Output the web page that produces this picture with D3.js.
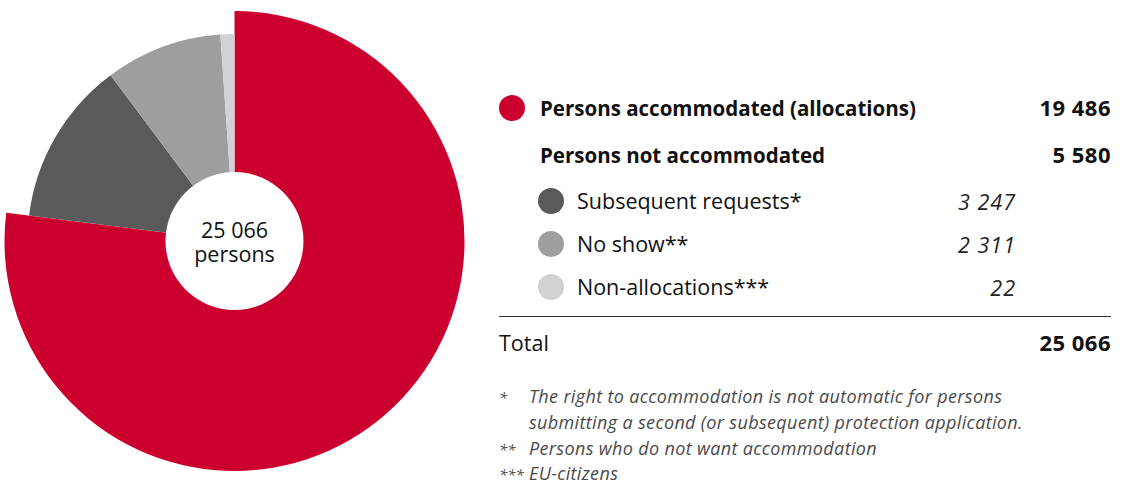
<!DOCTYPE html>
<html>
<head>
<meta charset="utf-8">
<script src="https://cdn.jsdelivr.net/npm/d3@7"></script>
<style>
  body { margin: 0; background: #fff; }
  svg { font-family: "Open Sans", "Noto Sans", sans-serif; }
</style>
</head>
<body>
<script>
// data
var categories = ["Persons accommodated (allocations)", "Subsequent requests*", "No show**", "Non-allocations***"];
var values = [19486, 3247, 2311, 22];
var colors = ["#cc002e", "#5a5a5c", "#9d9ea0", "#d1d2d4"];
var notAccommodatedLabel = "Persons not accommodated";
var totalLabel = "Total";
var centerLabel = ["25 066", "persons"];
var footMarks = ["*", "", "**", "***"];
var footTexts = [
  "The right to accommodation is not automatic for persons",
  "submitting a second (or subsequent) protection application.",
  "Persons who do not want accommodation",
  "EU-citizens"
];

var width = 1123, height = 485;
var cx = 234.5, cy = 241;

var total = d3.sum(values);
var notAcc = d3.sum(values.slice(1));
var fmt = d3.formatLocale({decimal: ".", thousands: " ", grouping: [3], currency: ["", ""]}).format(",d");

var svg = d3.select("body").append("svg")
  .attr("width", width)
  .attr("height", height);

var data = categories.map(function(c, i){ return {name: c, value: values[i], color: colors[i], idx: i}; });

// tiny slices get a minimum visible angle, like in the printed chart
var pie = d3.pie()
  .sort(null)
  .value(function(d){ return Math.max(d.value, total * 0.011); });

var arcs = pie(data);

var arcMain = d3.arc().innerRadius(60).outerRadius(230);
var arcRest = d3.arc().innerRadius(60).outerRadius(207);

var g = svg.append("g").attr("transform", "translate(" + cx + "," + cy + ")");

g.selectAll("path")
  .data(arcs)
  .enter()
  .append("path")
  .attr("d", function(d){ return d.data.idx === 0 ? arcMain(d) : arcRest(d); })
  .attr("fill", function(d){ return d.data.color; });

g.append("circle").attr("r", 69).attr("fill", "#fff");

g.append("text")
  .attr("text-anchor", "middle")
  .attr("y", -3)
  .attr("font-size", "21.5px")
  .attr("fill", "#111")
  .text(centerLabel[0]);
g.append("text")
  .attr("text-anchor", "middle")
  .attr("y", 21)
  .attr("font-size", "21.5px")
  .attr("fill", "#111")
  .text(centerLabel[1]);

// legend table
var xLeft = 499, xText = 540, xSub = 577, xRight = 1111, xSubVal = 1016;
var leg = svg.append("g").attr("font-size", "21.5px").attr("fill", "#111");

// row 1: accommodated
leg.append("circle").attr("cx", 512).attr("cy", 108).attr("r", 13).attr("fill", colors[0]);
leg.append("text").attr("x", xText).attr("y", 116).attr("font-weight", "bold").attr("font-size", "20.5px").text(categories[0]);
leg.append("text").attr("x", xRight).attr("y", 116).attr("text-anchor", "end").attr("font-weight", "bold")
  .attr("font-size", "22px").attr("letter-spacing", "0.5px").text(fmt(values[0]));

// row 2: not accommodated
leg.append("text").attr("x", xText).attr("y", 163).attr("font-weight", "bold").attr("font-size", "20.5px").text(notAccommodatedLabel);
leg.append("text").attr("x", xRight).attr("y", 163).attr("text-anchor", "end").attr("font-weight", "bold")
  .attr("font-size", "22px").attr("letter-spacing", "0.5px").text(fmt(notAcc));

// sub rows
var subY = [201, 244, 287];
var sub = leg.selectAll("g.sub")
  .data(data.slice(1))
  .enter()
  .append("g")
  .attr("class", "sub")
  .attr("transform", function(d, i){ return "translate(0," + subY[i] + ")"; });
sub.append("circle").attr("cx", 551).attr("r", 13).attr("fill", function(d){ return d.color; });
sub.append("text").attr("x", xSub).attr("y", 8).text(function(d){ return d.name; });
sub.append("text").attr("x", xSubVal).attr("y", 9).attr("text-anchor", "end")
  .attr("font-style", "italic").attr("fill", "#222").attr("letter-spacing", "1px").text(function(d){ return fmt(d.value); });

leg.append("line").attr("x1", xLeft).attr("x2", xRight).attr("y1", 316.5).attr("y2", 316.5)
  .attr("stroke", "#333").attr("stroke-width", 1);

leg.append("text").attr("x", xLeft).attr("y", 351).text(totalLabel);
leg.append("text").attr("x", xRight).attr("y", 351).attr("text-anchor", "end").attr("font-weight", "bold")
  .attr("font-size", "22px").attr("letter-spacing", "0.5px").text(fmt(total));

// footnotes
var footY = [403, 429, 455, 480];
var foot = svg.append("g").attr("font-size", "18px").attr("font-style", "italic").attr("fill", "#4a4a4a")
  .attr("letter-spacing", "0.35px");
foot.selectAll("text.mark").data(footMarks).enter().append("text")
  .attr("class", "mark").attr("x", xLeft).attr("y", function(d, i){ return footY[i]; })
  .attr("font-size", "15px").attr("letter-spacing", "0px")
  .text(function(d){ return d; });
foot.selectAll("text.note").data(footTexts).enter().append("text")
  .attr("class", "note").attr("x", 529).attr("y", function(d, i){ return footY[i]; })
  .text(function(d){ return d; });
</script>
</body>
</html>
